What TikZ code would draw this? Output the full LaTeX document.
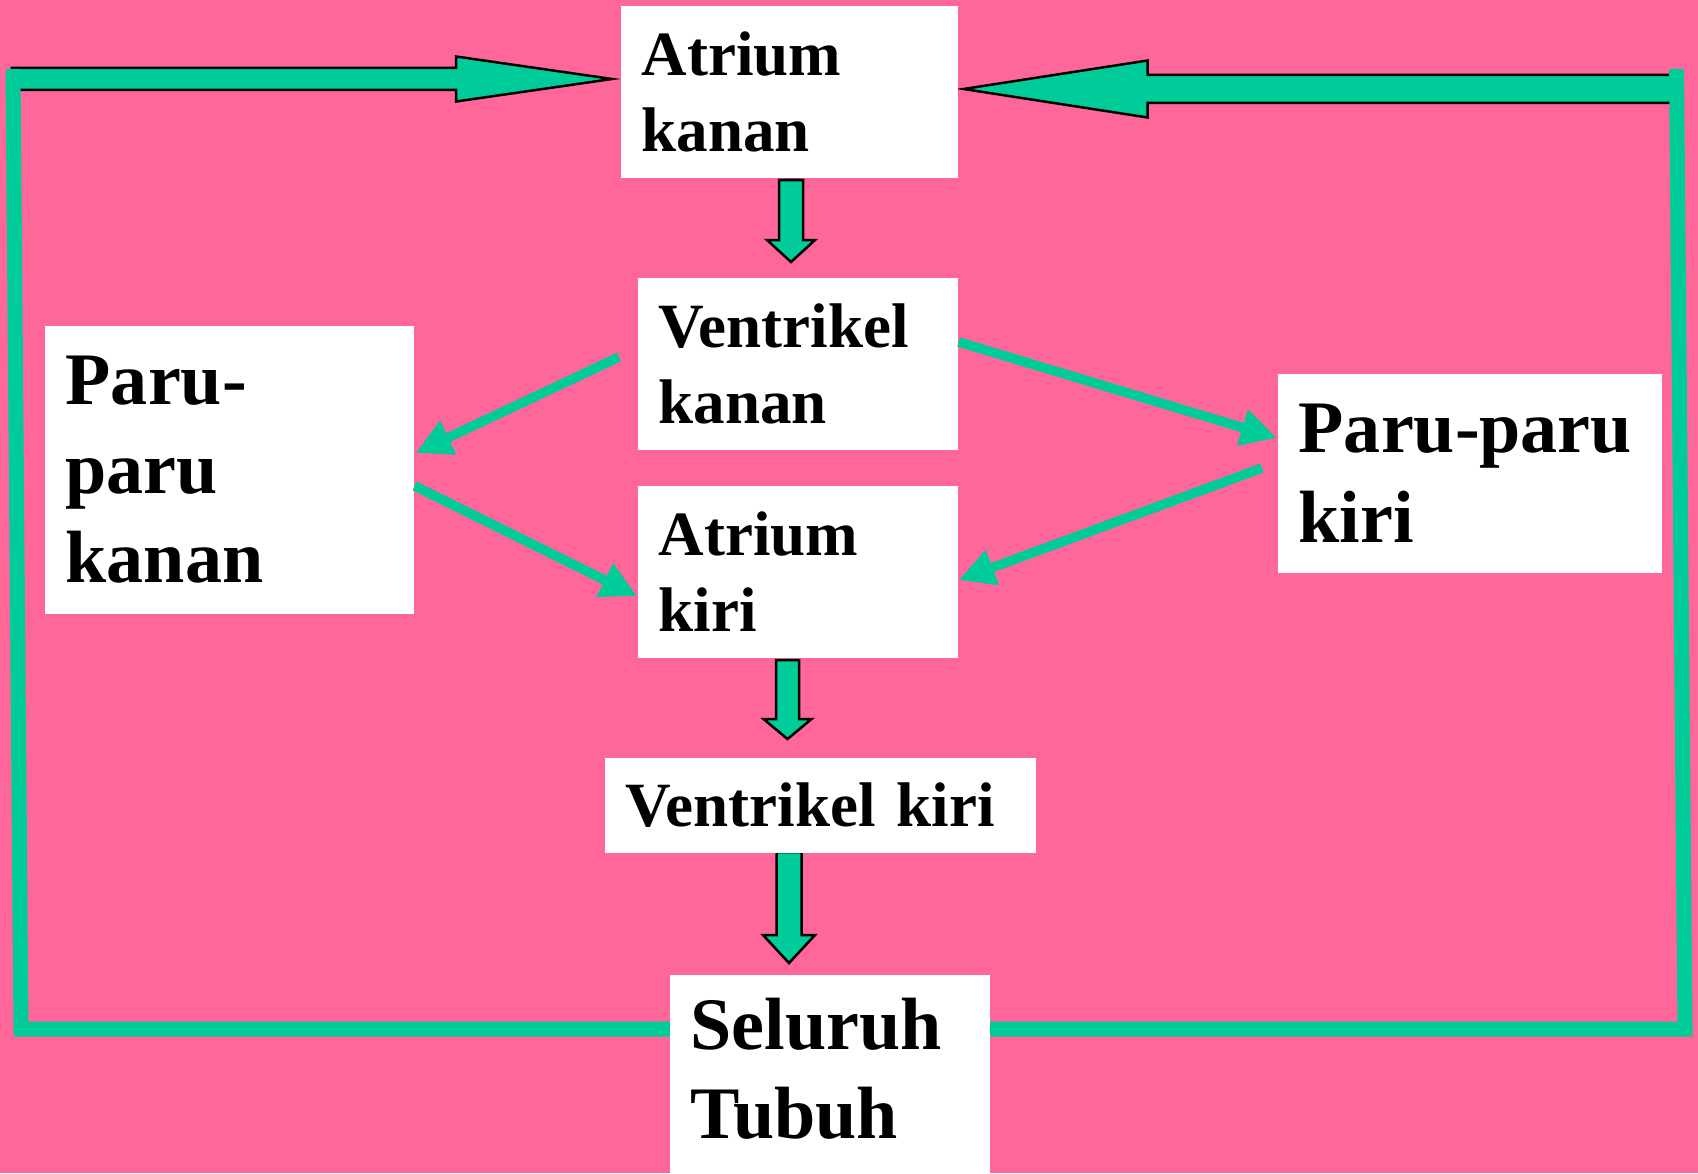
\documentclass[tikz,border=0pt]{standalone}
\usepackage{fontspec}
\setmainfont{Liberation Serif}
\usetikzlibrary{calc,arrows.meta}
\definecolor{bgpink}{RGB}{255,102,153}
\definecolor{flowgreen}{RGB}{0,204,153}
\pgfdeclarelayer{bglayer}
\pgfdeclarelayer{linelayer}
\pgfsetlayers{bglayer,linelayer,main}
\tikzset{
  box/.style={fill=white, anchor=north west, inner xsep=0.21cm, inner ysep=0pt, align=left,
    font=\bfseries\fontsize{17.93pt}{21.62pt}\selectfont},
  bigbox/.style={box, font=\bfseries\fontsize{21.06pt}{25.32pt}\selectfont},
  flow/.style={draw=flowgreen, line width=0.095cm, line cap=butt,
    -{Triangle[length=0.36cm,width=0.35cm]}},
  loopline/.style={draw=flowgreen, line width=0.15cm, line join=miter, line cap=butt},
  blockarrow/.style={fill=flowgreen, draw=black, line width=0.025cm, line join=miter},
}
\begin{document}
\begin{tikzpicture}[x=0.01cm, y=-0.01cm]
\useasboundingbox (0,0) rectangle (1698,1173);

% boxes
\node[box, text width=2.95cm, minimum height=1.72cm] (ak) at (620,5) {Atrium\\kanan};
\node[box, text width=2.78cm, minimum height=1.72cm] (vk) at (637,277) {Ventrikel\\kanan};
\node[bigbox, text width=3.27cm, minimum height=2.88cm] (pkn) at (44,325) {Paru-\\paru\\kanan};
\node[box, text width=2.78cm, minimum height=1.72cm] (akr) at (637,485) {Atrium\\kiri};
\node[bigbox, text width=3.42cm, minimum height=1.99cm] (pkr) at (1277,373) {\mbox{Paru-paru}\\kiri};
\node[box, text width=3.89cm, minimum height=0.95cm] (vkr) at (604,757) {Ventrikel kiri};
\node[bigbox, text width=2.78cm, minimum height=1.99cm] (st) at (669,974) {Seluruh\\Tubuh\rule[-0.12cm]{0pt}{0.12cm}};

% thin arrows
\draw[flow] ($(vk.north west)+(-18,80)$) -- ($(pkn.north east)+(1,128)$);
\draw[flow] ($(pkn.north east)+(0,161)$) -- ($(akr.north west)+(0,111)$);
\draw[flow] ($(vk.north east)+(0,65)$) -- ($(pkr.north west)+(0,65)$);
\draw[flow] ($(pkr.north west)+(-15,95)$) -- ($(akr.north east)+(0,95)$);

\begin{pgfonlayer}{bglayer}
\fill[bgpink] (0,0) rectangle (1698,1173);
\end{pgfonlayer}

\begin{pgfonlayer}{linelayer}
% vertical block arrows
\coordinate (t1) at ($(vk.north west)+(154,-15)$);
\draw[blockarrow] (t1) -- ++(24,-22) -- ++(-12,0) -- ++(0,-60) -- ++(-24,0) -- ++(0,60) -- ++(-12,0) -- cycle;
\coordinate (t2) at ($(vkr.north west)+(183.5,-18)$);
\draw[blockarrow] (t2) -- ++(24,-20) -- ++(-12.5,0) -- ++(0,-59) -- ++(-23,0) -- ++(0,59) -- ++(-12.5,0) -- cycle;
\coordinate (t3) at ($(st.north west)+(120,-11)$);
\draw[blockarrow] (t3) -- ++(26,-28) -- ++(-13.5,0) -- ++(0,-83) -- ++(-25,0) -- ++(0,83) -- ++(-13.5,0) -- cycle;
% top block arrows into Atrium kanan
\coordinate (tipL) at ($(ak.north west)+(-8,74)$);
\draw[blockarrow] (tipL) -- ++(-156,-22.5) -- ++(0,11.5) -- ++(-444,0) -- ++(0,22) -- ++(444,0) -- ++(0,11.5) -- cycle;
\coordinate (tipR) at ($(ak.north east)+(5,84)$);
\draw[blockarrow] (tipR) -- ++(184,-28.5) -- ++(0,14.5) -- ++(530,0) -- ++(0,28) -- ++(-530,0) -- ++(0,14.5) -- cycle;
% loop lines
\coordinate (tl) at (13,69);
\coordinate (bl) at (21,1029);
\coordinate (br) at (1685,1029);
\coordinate (tr) at (1676.5,69);
\draw[loopline] ($(st.north west)+(10,55)$) -- (bl) -- (tl);
\draw[loopline] ($(st.north east)+(-10,55)$) -- (br) -- (tr);
\end{pgfonlayer}
\end{tikzpicture}
\end{document}
